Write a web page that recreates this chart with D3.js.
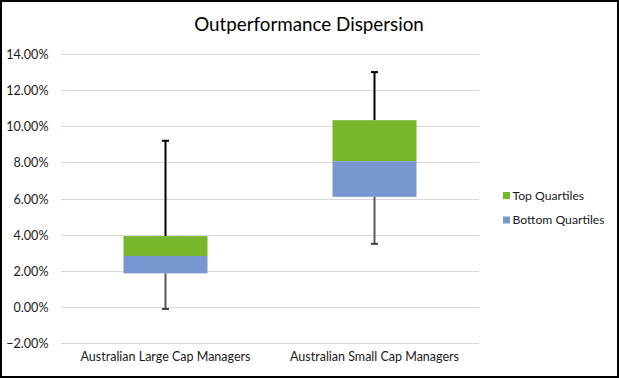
<!DOCTYPE html>
<html><head><meta charset="utf-8">
<script src="https://cdn.jsdelivr.net/npm/d3@7"></script>
<style>
html,body{margin:0;padding:0;background:#fff;}
svg{display:block;font-family:Lato,"Open Sans",sans-serif;}
</style></head><body>
<svg id="c" width="619" height="378"></svg>
<script>
const categories = ["Australian Large Cap Managers", "Australian Small Cap Managers"];
const minValues = [-0.1, 3.5];
const q1Values = [1.87, 6.1];
const medianValues = [2.83, 8.07];
const q3Values = [3.93, 10.34];
const maxValues = [9.2, 13.0];
const tickValues = [-2, 0, 2, 4, 6, 8, 10, 12, 14];
const seriesNames = ["Top Quartiles", "Bottom Quartiles"];
const seriesColors = ["#78B72B", "#7896CF"];

const svg = d3.select("#c");
const W = 619, H = 378;
svg.append("rect").attr("x",1).attr("y",1).attr("width",W-2).attr("height",H-2)
  .attr("fill","#fff").attr("stroke","#000").attr("stroke-width",2);

const x = d3.scaleBand().domain(categories).range([61, 479]).paddingInner(0.6).paddingOuter(0.3);
const y = d3.scaleLinear().domain([-2, 14]).range([343.3, 54]);

svg.append("text").attr("x", 309).attr("y", 30.5).attr("text-anchor","middle")
  .attr("font-size", 18.8).attr("fill","#000").text("Outperformance Dispersion");

// gridlines
svg.append("g").selectAll("line").data(tickValues).join("line")
  .attr("x1",61).attr("x2",479).attr("y1",d=>Math.round(y(d))+0.5).attr("y2",d=>Math.round(y(d))+0.5)
  .attr("stroke","#D9D9D9").attr("stroke-width",1.2);

// y axis
const yAxis = d3.axisLeft(y).tickValues(tickValues).tickFormat(d=>d3.format(".2f")(d)+"%").tickSize(0).tickPadding(0);
const ya = svg.append("g").attr("transform","translate(48.5,0)").call(yAxis);
ya.select(".domain").remove();
ya.selectAll("text").attr("font-size",12.6).attr("fill","#1a1a1a").attr("font-family","Lato,'Open Sans',sans-serif").attr("dy","0.35em");

// x axis labels
const xAxis = d3.axisBottom(x).tickSize(0).tickPadding(0);
const xa = svg.append("g").attr("transform","translate(0,352)").call(xAxis);
xa.select(".domain").remove();
xa.selectAll("text").attr("font-size",12.5).attr("fill","#1a1a1a").attr("font-family","Lato,'Open Sans',sans-serif");

// boxes
const bw = 84;
const g = svg.append("g");
categories.forEach((c,i)=>{
  const cx = x(c) + x.bandwidth()/2;
  const wg = g.append("g");
  wg.append("line").attr("x1",cx).attr("x2",cx).attr("y1",y(q3Values[i])).attr("y2",y(maxValues[i])).attr("stroke","#000").attr("stroke-width",2);
  wg.append("line").attr("x1",cx-3.5).attr("x2",cx+3.5).attr("y1",y(maxValues[i])).attr("y2",y(maxValues[i])).attr("stroke","#000").attr("stroke-width",2);
  wg.append("line").attr("x1",cx).attr("x2",cx).attr("y1",y(q1Values[i])).attr("y2",y(minValues[i])).attr("stroke","#595959").attr("stroke-width",2);
  wg.append("line").attr("x1",cx-3.5).attr("x2",cx+3.5).attr("y1",y(minValues[i])).attr("y2",y(minValues[i])).attr("stroke","#404040").attr("stroke-width",2);
  g.append("rect").attr("x",cx-bw/2).attr("width",bw).attr("y",y(q3Values[i])).attr("height",y(medianValues[i])-y(q3Values[i])).attr("fill",seriesColors[0]);
  g.append("rect").attr("x",cx-bw/2).attr("width",bw).attr("y",y(medianValues[i])).attr("height",y(q1Values[i])-y(medianValues[i])).attr("fill",seriesColors[1]);
});

// legend
const lg = svg.append("g");
seriesNames.forEach((n,i)=>{
  const yy = 195.5 + i*24.5;
  lg.append("rect").attr("x",503).attr("y",yy-3.5).attr("width",7).attr("height",7).attr("fill",seriesColors[i]);
  lg.append("text").attr("x",512.5).attr("y",yy).attr("dy","0.35em").attr("font-size",12.2).attr("fill","#1a1a1a").text(n);
});
</script>
</body></html>
